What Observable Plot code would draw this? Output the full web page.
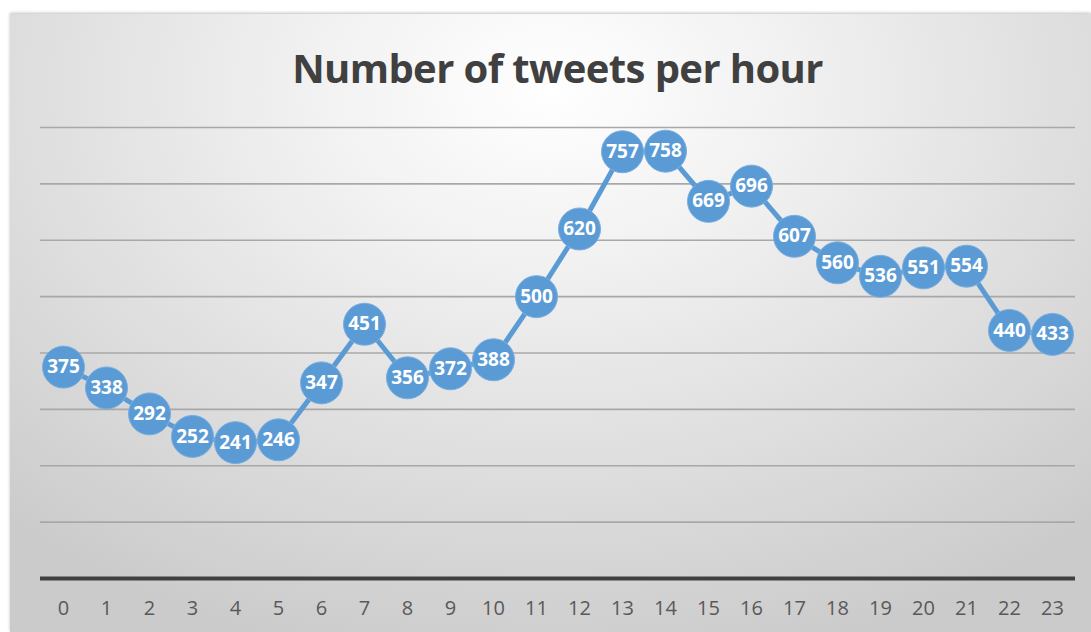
<!DOCTYPE html>
<html>
<head>
<meta charset="utf-8">
<script src="https://cdn.jsdelivr.net/npm/d3@7"></script>
<script src="https://cdn.jsdelivr.net/npm/@observablehq/plot@0.6"></script>
<style>
  html, body { margin: 0; padding: 0; background: #ffffff; }
  #wrap { position: relative; width: 1091px; height: 632px; overflow: hidden; background: #ffffff; }
  #bg { position: absolute; left: 10px; top: 14px; width: 1081px; height: 618px;
        background: radial-gradient(ellipse 75% 95% at 50% 12%, #ffffff 0%, #f1f1f1 30%, #dedede 65%, #cbcbcb 100%);
        box-shadow: 0 -1px 3px rgba(0,0,0,0.25); }
  #title { position: absolute; left: 40px; width: 1035px; top: 40px; text-align: center;
           font-family: "Open Sans", sans-serif; font-weight: 700; font-size: 40px; letter-spacing: -0.6px; color: #404040; line-height: 56px; }
  #chart { position: absolute; left: 0; top: 0; }
</style>
</head>
<body>
<div id="wrap">
  <div id="bg"></div>
  <div id="title">Number of tweets per hour</div>
  <div id="chart"></div>
</div>
<script>
const hours = ["0","1","2","3","4","5","6","7","8","9","10","11","12","13","14","15","16","17","18","19","20","21","22","23"];
const tweets = [375, 338, 292, 252, 241, 246, 347, 451, 356, 372, 388, 500, 620, 757, 758, 669, 696, 607, 560, 536, 551, 554, 440, 433];
const gridValues = [100, 200, 300, 400, 500, 600, 700, 800];

const data = hours.map((h, i) => ({hour: h, value: tweets[i]}));

const plot = Plot.plot({
  width: 1091,
  height: 632,
  marginLeft: 40,
  marginRight: 16,
  marginTop: 127,
  marginBottom: 54,
  style: {background: "transparent", overflow: "visible"},
  x: {type: "point", domain: hours, padding: 0.5, label: null},
  y: {domain: [0, 800], axis: null},
  marks: [
    Plot.ruleY(gridValues, {stroke: "#a8a8a8", strokeWidth: 1.6}),
    Plot.ruleY([0], {stroke: "#404040", strokeWidth: 4}),
    Plot.axisX({tickSize: 0, tickPadding: 22, fontSize: 20, fill: "#595959", fontFamily: "Open Sans, sans-serif", label: null}),
    Plot.line(data, {x: "hour", y: "value", stroke: "#5b9bd5", strokeWidth: 5, curve: "linear"}),
    Plot.dot(data, {x: "hour", y: "value", r: 21, fill: "#5b9bd5", stroke: "#78aee0", strokeWidth: 1}),
    Plot.text(data, {x: "hour", y: "value", text: d => String(d.value), fill: "#ffffff", fontSize: 19, fontWeight: 700, fontFamily: "Open Sans, sans-serif", letterSpacing: "-0.5px"})
  ]
});
document.getElementById("chart").appendChild(plot);
</script>
</body>
</html>
